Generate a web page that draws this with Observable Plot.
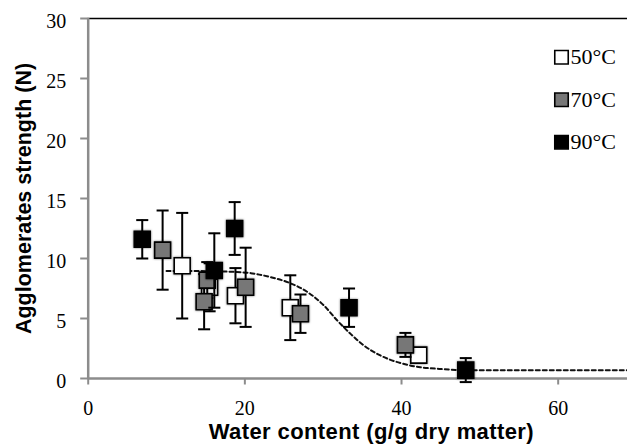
<!DOCTYPE html>
<html><head><meta charset="utf-8">
<script src="https://cdn.jsdelivr.net/npm/d3@7"></script>
<script src="https://cdn.jsdelivr.net/npm/@observablehq/plot@0.6"></script>
<style>
body{margin:0;background:#fff}
.sq path{filter: drop-shadow(0 0 1.2px rgba(0,0,0,0.55));}
.xl text{letter-spacing:0.4px}
.serif text{font-family:"Liberation Serif",serif !important}
.sans text{font-family:"Liberation Sans",Arial,sans-serif !important}
</style>
</head><body><div id="chart"></div>
<script>
// Series (drying temperature)
const series = ["50°C", "70°C", "90°C"];
const fills = ["#ffffff", "#777777", "#000000"];

// 50°C
const water50 = [12.0, 15.5, 18.8, 25.8, 42.2];
const strength50 = [9.4, 7.6, 6.9, 5.9, 1.95];
const err50 = [4.4, 2.0, 2.3, 2.7, 0.2];
// 70°C
const water70 = [9.5, 14.8, 15.2, 20.1, 27.1, 40.5];
const strength70 = [10.7, 6.4, 8.2, 7.6, 5.4, 2.8];
const err70 = [3.3, 2.3, 1.5, 3.3, 1.6, 1.0];
// 90°C
const water90 = [6.9, 16.1, 18.7, 33.3, 48.2];
const strength90 = [11.6, 9.0, 12.5, 5.9, 0.7];
const err90 = [1.6, 3.1, 2.2, 1.6, 1.0];

// Fitted (dashed) curve
const fitWater = [10, 14, 18, 20.75, 23.3, 25.8, 28, 30.1, 31.8, 33.5, 35.2, 37.3, 39.9, 42.4, 44.8, 48, 55, 69];
const fitStrength = [8.95, 8.95, 8.9, 8.78, 8.44, 7.94, 7.2, 6.08, 4.83, 3.72, 2.75, 1.92, 1.28, 0.94, 0.8, 0.7, 0.68, 0.68];

const xTicks = [0, 20, 40, 60];
const yTicks = [0, 5, 10, 15, 20, 25, 30];
const xLabel = "Water content (g/g dry matter)";
const yLabel = "Agglomerates strength (N)";

const waters = [water50, water70, water90];
const strengths = [strength50, strength70, strength90];
const errs = [err50, err70, err90];

const groups = series.map((s, i) => waters[i].map((w, j) => ({s, x: w, y: strengths[i][j], e: errs[i][j]})));
const fit = fitWater.map((x, i) => ({x, y: fitStrength[i]}));

const cap = {draw(ctx, size) { const w = Math.sqrt(size) / 2; ctx.moveTo(-w, 0); ctx.lineTo(w, 0); }};
const tickLeft = {draw(ctx) { ctx.moveTo(-8, 0); ctx.lineTo(0, 0); }};
const tickDown = {draw(ctx) { ctx.moveTo(0, 0); ctx.lineTo(0, 6); }};
const serif = "Liberation Serif";
const sans = "Liberation Sans";
const axisGray = "#8c8c8c";

const marks = [
  Plot.ruleY([30], {stroke: "#000", strokeWidth: 1.5}),
  Plot.dot(yTicks, {y: d => d, frameAnchor: "left", symbol: tickLeft, stroke: axisGray, strokeWidth: 2}),
  Plot.dot(xTicks, {x: d => d, frameAnchor: "bottom", symbol: tickDown, stroke: axisGray, strokeWidth: 2}),
  Plot.text(yTicks, {y: d => d, text: d => String(d), frameAnchor: "left", textAnchor: "end", lineAnchor: "middle", dx: -22, dy: 3.5, fontFamily: serif, fontSize: 20, fill: "#000", className: "serif"}),
  Plot.text(xTicks, {x: d => d, text: d => String(d), frameAnchor: "bottom", textAnchor: "middle", lineAnchor: "middle", dy: 30, fontFamily: serif, fontSize: 20, fill: "#000", className: "serif"}),
  Plot.ruleX([0], {stroke: axisGray, strokeWidth: 2.5}),
  Plot.ruleY([0], {stroke: axisGray, strokeWidth: 2.5}),
  Plot.line(fit, {x: "x", y: "y", curve: "monotone-x", stroke: "#111", strokeWidth: 2, strokeDasharray: "4,3"})
];

groups.forEach((g, i) => {
  marks.push(
    Plot.ruleX(g, {x: "x", y1: d => d.y - d.e, y2: d => d.y + d.e, stroke: "#000", strokeWidth: 2}),
    Plot.dot(g, {x: "x", y: d => d.y + d.e, symbol: cap, r: 6.8, stroke: "#000", strokeWidth: 2, fill: "none"}),
    Plot.dot(g, {x: "x", y: d => d.y - d.e, symbol: cap, r: 6.8, stroke: "#000", strokeWidth: 2, fill: "none"}),
    Plot.dot(g, {x: "x", y: "y", symbol: "square", r: 9, fill: fills[i], stroke: "#000", strokeWidth: 1.6, className: "sq"})
  );
});

// legend
series.forEach((s, i) => {
  marks.push(
    Plot.dot([s], {frameAnchor: "top-right", dx: -66, dy: 38.7 + i * 42.5, symbol: "square", r: 7.6, fill: fills[i], stroke: "#000", strokeWidth: 1.6}),
    Plot.text([s], {text: d => d, frameAnchor: "top-right", textAnchor: "start", lineAnchor: "middle", dx: -57, dy: 38.7 + i * 42.5, fontSize: 22, fontFamily: serif, fill: "#000", className: "serif"})
  );
});

marks.push(
  Plot.text([xLabel], {text: d => d, frameAnchor: "bottom", textAnchor: "middle", lineAnchor: "middle", dx: 13.5, dy: 53, fontWeight: "bold", fontFamily: sans, fontSize: 22, fill: "#000", className: "xl sans"}),
  Plot.text([yLabel], {text: d => d, frameAnchor: "left", textAnchor: "middle", lineAnchor: "middle", rotate: -90, dx: -64, fontWeight: "bold", fontFamily: sans, fontSize: 21.5, fill: "#000", className: "sans"})
);

const chart = Plot.plot({
  width: 627,
  height: 445,
  marginLeft: 87.7,
  marginRight: 0,
  marginTop: 18,
  marginBottom: 67,
  x: {domain: [0, 68.85], axis: null},
  y: {domain: [0, 30], axis: null},
  style: "background:#fff;overflow:visible;font-family:'Liberation Serif';font-size:20px;",
  marks
});
document.getElementById("chart").appendChild(chart);
</script>
</body></html>
